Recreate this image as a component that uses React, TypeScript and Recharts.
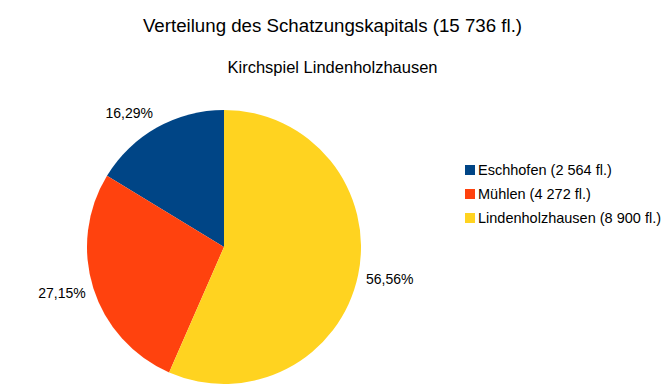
import React from 'react';
import { PieChart, Pie, Cell, Legend } from 'recharts';

const names = ['Eschhofen', 'Mühlen', 'Lindenholzhausen'];
const values = [2564, 4272, 8900];
const legendLabels = ['Eschhofen (2 564 fl.)', 'Mühlen (4 272 fl.)', 'Lindenholzhausen (8 900 fl.)'];
const colors = ['#004586', '#ff420e', '#ffd320'];
const title = 'Verteilung des Schatzungskapitals (15 736 fl.)';
const subtitle = 'Kirchspiel Lindenholzhausen';

const data = names.map((n, i) => ({ name: n, value: values[i] }));
const FONT = '"Liberation Sans", Arial, sans-serif';
const RAD = Math.PI / 180;

const renderLabel = (props: any) => {
  const { cx, cy, midAngle, outerRadius, percent } = props;
  const r = outerRadius + 8;
  const c = Math.cos(-midAngle * RAD);
  const s = Math.sin(-midAngle * RAD);
  const x = cx + r * c;
  const y = cy + r * s + s * 9;
  const txt = (percent * 100).toFixed(2).replace('.', ',') + '%';
  return (
    <text x={x} y={y} fill="#000" fontSize={14} fontFamily={FONT}
      textAnchor={c < 0 ? 'end' : 'start'} dominantBaseline="central">
      {txt}
    </text>
  );
};

const renderLegend = () => (
  <div style={{ fontFamily: FONT, fontSize: 14.5, color: '#000' }}>
    {legendLabels.map((l, i) => (
      <div key={i} style={{ display: 'flex', alignItems: 'center', height: 24, whiteSpace: 'nowrap' }}>
        <span style={{ width: 10, height: 10, background: colors[i], display: 'inline-block', marginRight: 3, flex: 'none' }} />
        <span>{l}</span>
      </div>
    ))}
  </div>
);

export default function App() {
  return (
    <div style={{ position: 'absolute', left: 0, top: 0, width: 671, height: 392, background: '#fff' }}>
      <div style={{ position: 'absolute', left: 0, top: 17, width: 665, textAlign: 'center', fontFamily: FONT, fontSize: 18.7, lineHeight: 1, color: '#000', whiteSpace: 'nowrap' }}>{title}</div>
      <div style={{ position: 'absolute', left: 0, top: 59, width: 665, textAlign: 'center', fontFamily: FONT, fontSize: 16.5, lineHeight: 1, color: '#000', whiteSpace: 'nowrap' }}>{subtitle}</div>
      <PieChart width={671} height={392} style={{ position: 'absolute', left: 0, top: 0 }}>
        <Pie data={data} dataKey="value" nameKey="name" cx={219} cy={242} outerRadius={137}
          startAngle={90} endAngle={450} stroke="none" isAnimationActive={false}
          label={renderLabel} labelLine={false}>
          {data.map((d, i) => <Cell key={d.name} fill={colors[i]} />)}
        </Pie>
        <Legend layout="vertical" content={renderLegend}
          wrapperStyle={{ position: 'absolute', left: 465, top: 158, width: 210 }} />
      </PieChart>
    </div>
  );
}
